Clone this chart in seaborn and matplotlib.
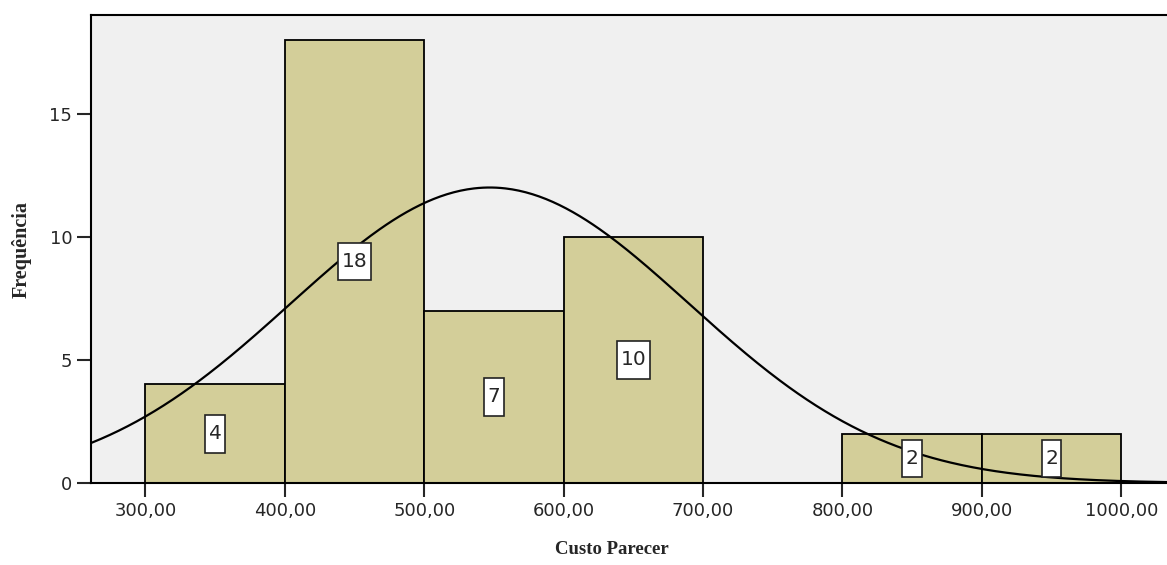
import numpy as np
import matplotlib.pyplot as plt
from matplotlib.path import Path
import seaborn as sns

# histogram of "Custo Parecer" (SPSS style)
bin_edges = [300, 400, 500, 600, 700, 800, 900, 1000]
counts = [4, 18, 7, 10, 0, 2, 2]
mean_custo = 547
sd_custo = 143
x_ticks = [300, 400, 500, 600, 700, 800, 900, 1000]
y_ticks = [0, 5, 10, 15]

sns.set_style('white')
plt.rcParams['font.family'] = ['DejaVu Sans']
plt.rcParams['xtick.major.size'] = 10
plt.rcParams['ytick.major.size'] = 10
plt.rcParams['xtick.major.width'] = 1.5
plt.rcParams['ytick.major.width'] = 1.5
plt.rcParams['xtick.bottom'] = True
plt.rcParams['ytick.left'] = True


def tall_box(x0, y0, width, height, mutation_size):
    # narrow, tall label box like the SPSS data labels
    px = 0.17 * mutation_size
    py = 0.46 * mutation_size
    x1, y1 = x0 + width + px, y0 + height + py
    x0, y0 = x0 - px, y0 - py
    return Path([(x0, y0), (x1, y0), (x1, y1), (x0, y1), (x0, y0)], closed=True)


fig = plt.figure(figsize=(11.67, 5.65), dpi=100)
ax = fig.add_axes([91 / 1167, 82 / 565, 1100 / 1167, 468 / 565])
ax.set_facecolor('#f0f0f0')

centers = [(a + b) / 2 for a, b in zip(bin_edges[:-1], bin_edges[1:])]
sns.histplot(x=centers, weights=counts, bins=bin_edges, color='#d3ce99',
             edgecolor='black', linewidth=1.3, alpha=1, ax=ax)

# normal curve overlay
n_total = sum(counts)
width = bin_edges[1] - bin_edges[0]
xs = np.linspace(255, 1060, 500)
ys = n_total * width / (sd_custo * np.sqrt(2 * np.pi)) * np.exp(-0.5 * ((xs - mean_custo) / sd_custo) ** 2)
sns.lineplot(x=xs, y=ys, color='black', linewidth=1.6, ax=ax)

for c, n in zip(centers, counts):
    if n > 0:
        ax.text(c, n / 2, str(n), ha='center', va='center', fontsize=14.5,
                bbox=dict(boxstyle=tall_box, fc='white', ec='#222222', lw=1.2))

ax.set_xlim(261, 1050)
ax.set_ylim(0, 19)
ax.set_xticks(x_ticks, ['{},00'.format(v) for v in x_ticks], fontsize=13)
ax.set_yticks(y_ticks, [str(v) for v in y_ticks], fontsize=13)

for s in ax.spines.values():
    s.set_color('black')
    s.set_linewidth(1.5)

ax.set_xlabel('Custo Parecer', family='Liberation Serif', fontweight='bold', fontsize=13.5, va='center')
ax.xaxis.set_label_coords((612 - 91) / 1100, (483 - 549) / 468)
ax.set_ylabel('Frequência', family='Liberation Serif', fontweight='bold', fontsize=14.5, va='center')
ax.yaxis.set_label_coords((22 - 91) / 1100, 0.5)

plt.savefig('out.png', dpi=100)
